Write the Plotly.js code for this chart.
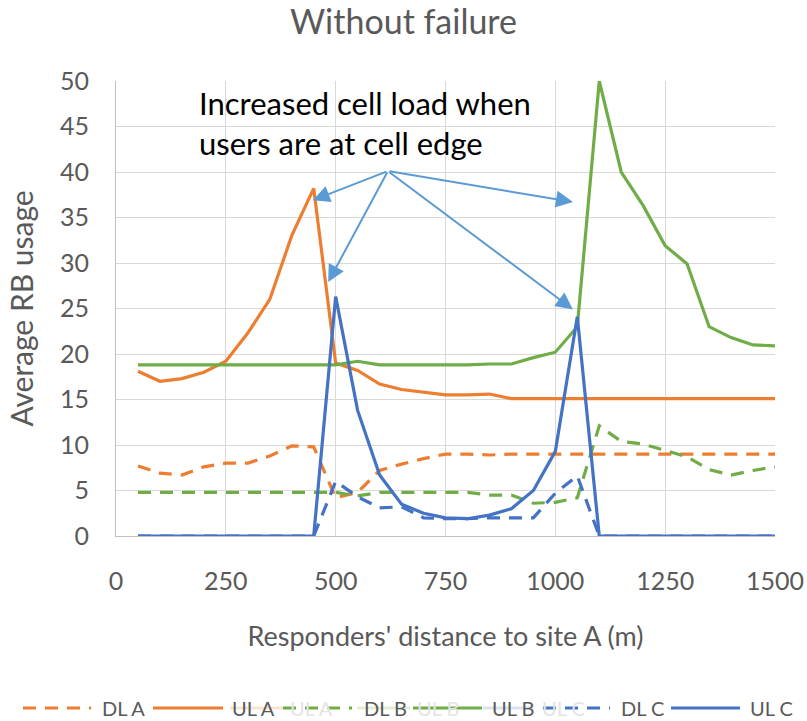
<!DOCTYPE html>
<html>
<head>
<meta charset="utf-8">
<script src="https://cdn.plot.ly/plotly-3.0.1.min.js"></script>
<style>html,body{margin:0;padding:0;background:#fff;}#chart{width:807px;height:721px;}</style>
</head>
<body>
<div id="chart"></div>
<script>
// Distance to site A (m)
const distance = [50,100,150,200,250,300,350,400,450,500,550,600,650,700,750,800,850,900,950,1000,1050,1100,1150,1200,1250,1300,1350,1400,1450,1500];

const dlA = [7.7,6.9,6.7,7.6,8.0,8.0,8.8,9.9,9.8,4.2,4.8,7.2,7.9,8.5,9.0,9.0,8.9,9.0,9.0,9.0,9.0,9.0,9.0,9.0,9.0,9.0,9.0,9.0,9.0,9.0];
const ulA = [18.1,17.0,17.3,18.0,19.2,22.3,26.0,33.0,38.2,19.0,18.2,16.7,16.1,15.8,15.5,15.5,15.6,15.1,15.1,15.1,15.1,15.1,15.1,15.1,15.1,15.1,15.1,15.1,15.1,15.1];
const dlB = [4.8,4.8,4.8,4.8,4.8,4.8,4.8,4.8,4.8,4.8,4.4,4.8,4.8,4.8,4.8,4.8,4.5,4.5,3.6,3.7,4.2,12.1,10.4,10.1,9.4,8.7,7.3,6.7,7.2,7.6];
const ulB = [18.8,18.8,18.8,18.8,18.8,18.8,18.8,18.8,18.8,18.8,19.2,18.8,18.8,18.8,18.8,18.8,18.9,18.9,19.6,20.2,23.0,50.0,40.0,36.3,31.9,29.9,23.0,21.8,21.0,20.9];
const dlC = [0,0,0,0,0,0,0,0,0,6.0,4.3,3.1,3.2,2.0,1.9,1.9,2.0,2.0,2.0,4.7,6.6,0,0,0,0,0,0,0,0,0];
const ulC = [0,0,0,0,0,0,0,0,0,26.3,13.8,6.7,3.5,2.5,2.0,1.9,2.3,3.0,5.0,9.3,24.1,0,0,0,0,0,0,0,0,0];

const seriesNames = ["DL A","UL A","DL B","UL B","DL C","UL C"];
const ghostNames = ["UL A","UL B","UL C"];

// Callout text and arrow targets (data units)
const calloutText = "Increased cell load when<br>users are at cell edge";
const arrowTail = [619, 40.1];
const arrowHeadsX = [448, 483, 1040, 1040];
const arrowHeadsY = [36.9, 27.9, 36.7, 24.9];

const ORANGE = "#ED7D31", GREEN = "#70AD47", BLUE = "#4472C4", ARROW = "#5B9BD5";
const FONT = "Lato, 'Open Sans', sans-serif";
const DASH = "13px,9px";
const colors = [ORANGE, ORANGE, GREEN, GREEN, BLUE, BLUE];
const dashed = [true, false, true, false, true, false];
const yData = [dlA, ulA, dlB, ulB, dlC, ulC];

// plot area in pixels (for placing the hand-drawn legend below it)
const PL = 116, PR = 775, PT = 81, PB = 536;
const px2x = p => (p - PL) / (PR - PL);
const px2y = p => (PB - p) / (PB - PT);

const data = yData.map((y, i) => ({
  x: distance, y: y, name: seriesNames[i], type: "scatter", mode: "lines",
  line: {color: colors[i], width: 3.2, dash: dashed[i] ? DASH : "solid"},
  showlegend: false
}));

const annotations = [{
  x: 184, y: 45.4, xref: "x", yref: "y", xanchor: "left", yanchor: "middle",
  align: "left", showarrow: false, text: calloutText,
  font: {family: FONT, size: 31, color: "#000000"}
}];
for (let i = 0; i < arrowHeadsX.length; i++) {
  annotations.push({
    x: arrowHeadsX[i], y: arrowHeadsY[i], xref: "x", yref: "y",
    ax: arrowTail[0], ay: arrowTail[1], axref: "x", ayref: "y",
    text: "", showarrow: true, arrowhead: 2, arrowsize: 1.7, arrowwidth: 2,
    arrowcolor: ARROW, standoff: 0, startstandoff: 0
  });
}

// Legend drawn below the plot (line sample + label)
const legendY = 708;
const legLine = [[23, 91], [153, 223], [283, 352], [413, 482], [543, 610], [671, 740]];
const legText = [100, 230, 362, 490, 619, 748];
const shapes = [];
// faint ghost samples seen in the reference legend
const ghostLine = [[230, 283, "#FBE3D3"], [357, 410, "#E0EED6"], [483, 533, "#D9E2F3"]];
const ghostText = [288, 415, 540];
ghostLine.forEach(g => shapes.push({
  type: "line", xref: "paper", yref: "paper", layer: "above",
  x0: px2x(g[0]), x1: px2x(g[1]), y0: px2y(legendY), y1: px2y(legendY),
  line: {color: g[2], width: 3.2}
}));
ghostNames.forEach((n, i) => annotations.push({
  x: px2x(ghostText[i]), y: px2y(legendY), xref: "paper", yref: "paper",
  xanchor: "left", yanchor: "middle", showarrow: false, text: n,
  font: {family: FONT, size: 20, color: "#E4E4E4"}
}));
seriesNames.forEach((n, i) => {
  shapes.push({
    type: "line", xref: "paper", yref: "paper", layer: "above",
    x0: px2x(legLine[i][0]), x1: px2x(legLine[i][1]), y0: px2y(legendY), y1: px2y(legendY),
    line: {color: colors[i], width: 3.2, dash: dashed[i] ? DASH : "solid"}
  });
  annotations.push({
    x: px2x(legText[i]), y: px2y(legendY), xref: "paper", yref: "paper",
    xanchor: "left", yanchor: "middle", showarrow: false, text: n,
    font: {family: FONT, size: 20, color: "#595959"}
  });
});

const layout = {
  width: 807, height: 721,
  paper_bgcolor: "#ffffff", plot_bgcolor: "#ffffff",
  margin: {l: PL, r: 807 - PR, t: PT, b: 721 - PB},
  font: {family: FONT, color: "#595959"},
  title: {text: "Without failure", font: {family: FONT, size: 34, color: "#595959"},
          x: 0.5, xanchor: "center", y: 1 - 22/721, yanchor: "middle", yref: "container"},
  xaxis: {
    range: [0, 1500], tick0: 0, dtick: 250, showgrid: true, gridcolor: "#D9D9D9", gridwidth: 1,
    zeroline: false, showline: true, linecolor: "#BFBFBF", linewidth: 1, ticks: "",
    tickfont: {family: FONT, size: 25, color: "#595959"}, ticklabelstandoff: 23,
    title: {text: "Responders' distance to site A (m)", font: {family: FONT, size: 27, color: "#595959"}, standoff: 33}
  },
  yaxis: {
    range: [0, 50], tick0: 0, dtick: 5, showgrid: true, gridcolor: "#D9D9D9", gridwidth: 1,
    zeroline: false, showline: true, linecolor: "#BFBFBF", linewidth: 1, ticks: "",
    tickfont: {family: FONT, size: 25, color: "#595959"}, ticklabelstandoff: 21,
    title: {text: "Average RB usage", font: {family: FONT, size: 30, color: "#595959"}, standoff: 17}
  },
  showlegend: false,
  shapes: shapes,
  annotations: annotations
};

Plotly.newPlot("chart", data, layout, {displayModeBar: false, staticPlot: true});
</script>
</body>
</html>
